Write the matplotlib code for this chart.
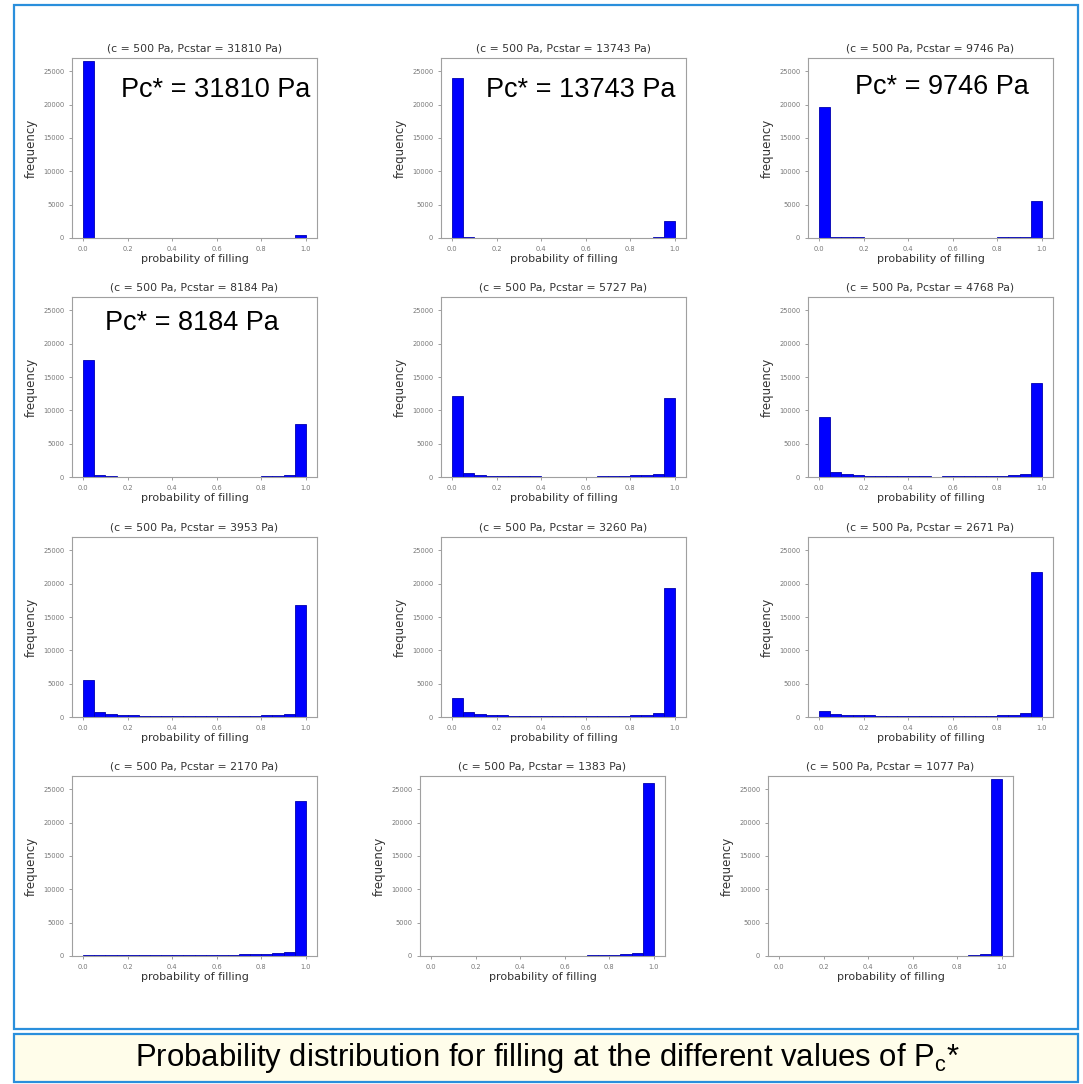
import numpy as np
import matplotlib
matplotlib.use("Agg")
import matplotlib.pyplot as plt
from matplotlib.patches import Rectangle

plt.rcParams['font.family'] = ['DejaVu Sans']
plt.rcParams['mathtext.fontset'] = 'custom'
plt.rcParams['mathtext.rm'] = 'Liberation Sans'
plt.rcParams['mathtext.it'] = 'Liberation Sans'

# ---------------- data ----------------
c_value = 500
pcstar_values = [31810, 13743, 9746, 8184, 5727, 4768, 3953, 3260, 2671, 2170, 1383, 1077]
bin_edges = np.linspace(0.0, 1.0, 21)

counts_31810 = [26600, 40, 0, 0, 0, 0, 0, 0, 0, 0, 0, 0, 0, 0, 0, 0, 0, 0, 10, 420]
counts_13743 = [24000, 180, 60, 20, 10, 5, 5, 5, 5, 5, 5, 5, 5, 5, 5, 10, 15, 30, 80, 2500]
counts_9746 = [19700, 200, 120, 80, 50, 30, 25, 20, 15, 15, 15, 15, 20, 25, 30, 50, 80, 120, 200, 5600]
counts_8184 = [17600, 280, 120, 70, 50, 40, 30, 25, 20, 20, 20, 20, 25, 30, 40, 60, 90, 150, 280, 7900]
counts_5727 = [12100, 550, 300, 220, 170, 140, 120, 90, 60, 40, 30, 40, 60, 90, 130, 180, 230, 280, 380, 11900]
counts_4768 = [9000, 700, 400, 250, 180, 150, 130, 110, 100, 90, 60, 90, 100, 110, 130, 160, 200, 250, 400, 14100]
counts_3953 = [5600, 700, 420, 300, 250, 200, 170, 150, 130, 120, 110, 120, 130, 150, 170, 200, 230, 280, 420, 16800]
counts_3260 = [2800, 750, 450, 320, 230, 170, 140, 120, 110, 100, 100, 110, 120, 140, 170, 210, 260, 330, 550, 19400]
counts_2671 = [900, 450, 320, 260, 300, 220, 170, 140, 120, 110, 110, 120, 140, 170, 190, 220, 260, 320, 550, 21700]
counts_2170 = [120, 110, 100, 100, 90, 80, 80, 100, 110, 120, 130, 150, 170, 200, 230, 260, 300, 380, 650, 23300]
counts_1383 = [0, 0, 0, 0, 0, 0, 0, 0, 0, 0, 10, 20, 40, 60, 100, 140, 200, 280, 450, 26000]
counts_1077 = [0, 0, 0, 0, 0, 0, 0, 0, 0, 0, 0, 0, 0, 0, 0, 20, 50, 100, 350, 26600]

all_counts = [counts_31810, counts_13743, counts_9746, counts_8184, counts_5727, counts_4768,
              counts_3953, counts_3260, counts_2671, counts_2170, counts_1383, counts_1077]

x_ticks = [0.0, 0.2, 0.4, 0.6, 0.8, 1.0]
y_ticks = [0, 5000, 10000, 15000, 20000, 25000]

# big slide annotations: (panel index, text, x in axes, y in axes)
annotations = [(0, "Pc* = 31810 Pa", 0.585, 0.82),
               (1, "Pc* = 13743 Pa", 0.57, 0.82),
               (2, "Pc* = 9746 Pa", 0.545, 0.84),
               (3, "Pc* = 8184 Pa", 0.49, 0.855)]

caption = "Probability distribution for filling at the different values of P$_\\mathrm{c}$*"

# ---------------- layout (pixels) ----------------
W, H = 1083, 1084
fig = plt.figure(figsize=(W / 100, H / 100), dpi=100)

row_bottoms = [238, 477, 717, 956]
col_lefts = [[72, 441, 808], [72, 441, 808], [72, 441, 808], [72, 420, 768]]
ax_w, ax_h = 245, 180

def px_rect(left, bottom, w, h):
    return [left / W, 1 - bottom / H, w / W, h / H]

frame_color = '#2a8fdc'
# main frame
fig.add_artist(Rectangle((14 / W, 1 - 1029 / H), (1078 - 14) / W, (1029 - 5) / H,
                         transform=fig.transFigure, fill=False,
                         edgecolor=frame_color, linewidth=1.6, zorder=0))
# caption box
fig.add_artist(Rectangle((14 / W, 1 - 1082 / H), (1078 - 14) / W, (1082 - 1034) / H,
                         transform=fig.transFigure, facecolor='#fffdea',
                         edgecolor=frame_color, linewidth=1.6, zorder=0))
fig.text(547 / W, 1 - 1058 / H, caption, ha='center', va='center',
         fontsize=22.4, family='Liberation Sans', color='black')

spine_color = '#a0a0a0'
for i, counts in enumerate(all_counts):
    r, c = divmod(i, 3)
    ax = fig.add_axes(px_rect(col_lefts[r][c], row_bottoms[r], ax_w, ax_h))
    centers = 0.5 * (bin_edges[:-1] + bin_edges[1:])
    ax.hist(centers, bins=bin_edges, weights=counts, color='#0000ff',
            edgecolor='#0000b0', linewidth=0.6)
    ax.set_ylim(0, 27000)
    ax.set_xticks(x_ticks)
    ax.set_xticklabels([f"{t:.1f}" for t in x_ticks])
    ax.set_yticks(y_ticks)
    ax.tick_params(labelsize=4.8, colors='#777777', length=2, width=0.5)
    for s in ax.spines.values():
        s.set_color(spine_color)
        s.set_linewidth(0.8)
    ax.set_title(f"(c = {c_value} Pa, Pcstar = {pcstar_values[i]} Pa)",
                 fontsize=7.8, color='#333333', pad=5)
    ax.set_xlabel("probability of filling", fontsize=8, color='#333333', labelpad=2)
    ax.set_ylabel("frequency", fontsize=8.5, color='#333333', labelpad=4)
    for (k, txt, ax_x, ax_y) in annotations:
        if k == i:
            ax.text(ax_x, ax_y, txt, transform=ax.transAxes, ha='center', va='center',
                    fontsize=19.5, family='Liberation Sans', color='black')

fig.savefig("out.png", dpi=100, facecolor='white')
